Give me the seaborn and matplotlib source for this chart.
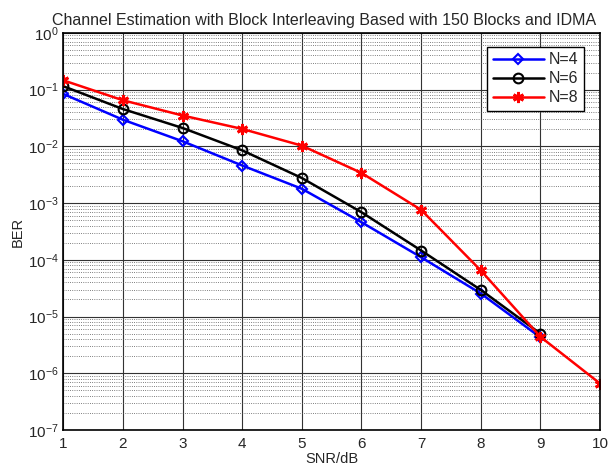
import matplotlib
matplotlib.use('Agg')
import matplotlib.pyplot as plt
import pandas as pd
import seaborn as sns
from matplotlib.ticker import LogLocator, NullFormatter

# SNR points and BER
snr = [1, 2, 3, 4, 5, 6, 7, 8, 9, 10]
ber_n4 = [0.084, 0.0295, 0.0123, 0.0046, 0.00179, 4.6e-4, 1.11e-4, 2.55e-5, 4.3e-6]
ber_n6 = [0.115, 0.0455, 0.0211, 0.0085, 0.00277, 6.9e-4, 1.46e-4, 2.95e-5, 5.0e-6]
ber_n8 = [0.146, 0.065, 0.035, 0.0203, 0.0103, 0.0034, 7.6e-4, 6.5e-5, 4.4e-6, 6.6e-7]
labels = ['N=4', 'N=6', 'N=8']
title = 'Channel Estimation with Block Interleaving Based with 150 Blocks and IDMA'

sns.set_style('white')
plt.rcParams['font.family'] = ['Liberation Sans', 'DejaVu Sans']
plt.rcParams['mathtext.fontset'] = 'custom'
plt.rcParams['mathtext.rm'] = 'Liberation Sans'
plt.rcParams['mathtext.it'] = 'Liberation Sans'

rows = []
for name, vals in zip(labels, [ber_n4, ber_n6, ber_n8]):
    for x, v in zip(snr, vals):
        rows.append({'SNR': x, 'BER': v, 'N': name})
df = pd.DataFrame(rows)

fig = plt.figure(figsize=(6.08, 4.70), dpi=100)
ax = fig.add_axes([0.104, 0.085, 0.883, 0.845])

# Grid first so lines sit on top
ax.set_yscale('log')
ax.grid(True, which='major', color='#333333', linestyle='-', linewidth=0.8)
ax.grid(True, which='minor', axis='y', color='#555555', linestyle=':', linewidth=0.6)
ax.set_axisbelow(True)

styles = {
    'N=4': dict(color='blue', marker='D', mfc='none', mec='blue', ms=5.5, mew=1.5),
    'N=6': dict(color='black', marker='o', mfc='none', mec='black', ms=7, mew=1.5),
    'N=8': dict(color='red', marker=(6, 2, 0), mfc='red', mec='red', ms=8, mew=2),
}
for name in labels:
    sub = df[df['N'] == name]
    st = styles[name]
    sns.lineplot(data=sub, x='SNR', y='BER', ax=ax, color=st['color'], linewidth=1.8,
                 marker=st['marker'], markersize=st['ms'], markerfacecolor=st['mfc'],
                 markeredgecolor=st['mec'], markeredgewidth=st['mew'], label=name)

ax.set_xlim(1, 10)
ax.set_ylim(1e-7, 1)
ax.set_xticks(snr)
ax.yaxis.set_major_locator(LogLocator(base=10, numticks=10))
ax.yaxis.set_minor_locator(LogLocator(base=10, subs=range(2, 10), numticks=100))
ax.yaxis.set_minor_formatter(NullFormatter())
ax.tick_params(axis='both', which='both', direction='in', labelsize=11)
ax.tick_params(axis='x', pad=5)

for sp in ax.spines.values():
    sp.set_color('black')
    sp.set_linewidth(1.2)

ax.set_xlabel('SNR/dB', fontsize=10.5, labelpad=1)
ax.set_ylabel('BER', fontsize=10.5, labelpad=2)
ax.set_title(title, fontsize=11.5, pad=6, x=0.486)

leg = ax.legend(loc='upper right', bbox_to_anchor=(0.985, 0.985), fontsize=11.5,
                frameon=True, fancybox=False, edgecolor='black', framealpha=1,
                handlelength=3.2, borderpad=0.35, labelspacing=0.25, handletextpad=0.3)
leg.get_frame().set_linewidth(1.0)

fig.savefig('out.png', dpi=100)
